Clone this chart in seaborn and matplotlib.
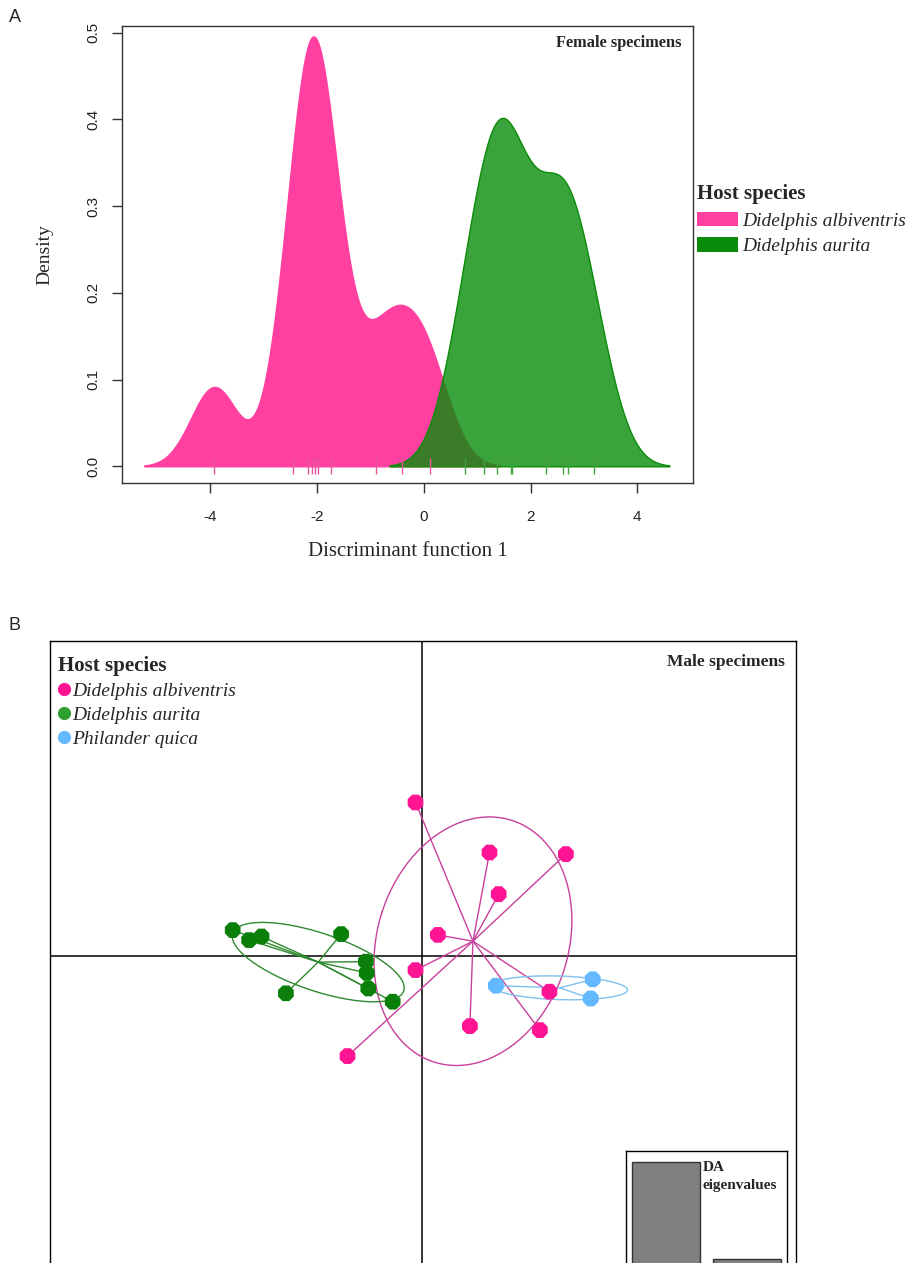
import numpy as np
import pandas as pd
import seaborn as sns
import matplotlib.pyplot as plt
from matplotlib.patches import Patch
from matplotlib.lines import Line2D

# ---- data -------------------------------------------------------------
species = ['Didelphis albiventris', 'Didelphis aurita', 'Philander quica']

# panel A: discriminant function 1 scores of the female specimens
df1_albiventris = [-3.92, -2.44, -2.16, -2.09, -2.04, -1.98, -1.74, -0.90, -0.40, 0.11]
df1_aurita = [0.77, 1.13, 1.38, 1.63, 1.65, 2.29, 2.61, 2.71, 3.19]

# panel B: DA scores (LD1, LD2) of the male specimens
ld1_albiventris = [-0.17, 1.68, 3.59, 1.91, 0.39, -0.17, 3.18, 1.19, 2.94, -1.87]
ld2_albiventris = [3.83, 2.58, 2.54, 1.54, 0.52, -0.36, -0.90, -1.76, -1.86, -2.51]
ld1_aurita = [-4.74, -4.33, -4.02, -2.03, -1.41, -1.39, -1.35, -3.41, -0.74]
ld2_aurita = [0.64, 0.39, 0.48, 0.54, -0.15, -0.43, -0.82, -0.94, -1.15]
ld1_quica = [1.84, 4.26, 4.21]
ld2_quica = [-0.75, -0.59, -1.07]

eig_labels = ['LD1', 'LD2']
eig_values = [10.0, 1.5]

fill_cols = {'Didelphis albiventris': '#FF40A0', 'Didelphis aurita': '#0A8C0A'}
point_cols = {'Didelphis albiventris': '#FF1493', 'Didelphis aurita': '#0A800A',
              'Philander quica': '#63B8FF'}
line_cols = {'Didelphis albiventris': '#C8409A', 'Didelphis aurita': '#2F8A2F',
             'Philander quica': '#7EC0EE'}
legend_cols = {'Didelphis albiventris': '#FF1493', 'Didelphis aurita': '#2FA02F',
               'Philander quica': '#63B8FF'}

SERIF = 'Liberation Serif'
SANS = 'Liberation Sans'

sns.set_style('ticks')
plt.rcParams['font.family'] = [SANS, 'DejaVu Sans']

W, H = 920, 1263
fig = plt.figure(figsize=(W / 100, H / 100), dpi=100)


def box(l, t, r, b):
    return [l / W, 1 - b / H, (r - l) / W, (b - t) / H]


def nrd0_adjust(v):
    # R's bw.nrd0 expressed as a multiple of seaborn's scott bandwidth
    v = np.asarray(v)
    n = len(v)
    sd = v.std(ddof=1)
    q75, q25 = np.percentile(v, [75, 25])
    bw = 0.9 * min(sd, (q75 - q25) / 1.34) * n ** -0.2
    return bw / (sd * n ** -0.2)


# ---- panel A ----------------------------------------------------------
axA = fig.add_axes(box(122.3, 25.7, 692.7, 483.3))
sns.kdeplot(x=df1_albiventris, ax=axA, fill=True, color=fill_cols[species[0]], alpha=1,
            linewidth=1, bw_adjust=nrd0_adjust(df1_albiventris), cut=3, gridsize=512)
sns.kdeplot(x=df1_aurita, ax=axA, fill=True, color=fill_cols[species[1]], alpha=0.8,
            linewidth=1, bw_adjust=nrd0_adjust(df1_aurita), cut=3, gridsize=512)
axA.plot(df1_albiventris, np.zeros(len(df1_albiventris)), '|', color='#E8559F', ms=12, mew=1)
axA.plot(df1_aurita, np.zeros(len(df1_aurita)), '|', color='#3FA23F', ms=12, mew=1)

axA.set_xlim(-5.644, 5.037)
axA.set_ylim(-0.0196, 0.508)
axA.set_xticks([-4, -2, 0, 2, 4])
axA.set_xticklabels(['-4', '-2', '0', '2', '4'])
axA.set_yticks([0, 0.1, 0.2, 0.3, 0.4, 0.5])
axA.set_yticklabels(['0.0', '0.1', '0.2', '0.3', '0.4', '0.5'], rotation=90, va='center')
axA.tick_params(axis='both', length=7.5, width=1, color='#333333', labelsize=11,
                labelcolor='#222222', direction='out')
axA.tick_params(axis='x', pad=12)
axA.tick_params(axis='y', pad=8)
for s in axA.spines.values():
    s.set_color('#333333')
    s.set_linewidth(1)
axA.set_xlabel('Discriminant function 1', family=SERIF, fontsize=15, labelpad=13)
axA.set_ylabel('Density', family=SERIF, fontsize=14, labelpad=24)

fig.text(682 / W, 1 - 43.3 / H, 'Female specimens', family=SERIF, weight='bold',
         fontsize=11.8, ha='right', va='center')

hA = [Patch(facecolor=fill_cols[sp], edgecolor='none', label=sp) for sp in species[:2]]
legA = axA.legend(handles=hA, title='Host species', loc='upper left',
                  bbox_to_anchor=(697 / W, 1 - 184 / H), bbox_transform=fig.transFigure,
                  frameon=False, borderpad=0, borderaxespad=0, handlelength=2.1,
                  handleheight=0.75, handletextpad=0.2, labelspacing=0.4,
                  alignment='left', prop={'family': SERIF, 'style': 'italic', 'size': 14},
                  title_fontproperties={'family': SERIF, 'weight': 'bold', 'size': 15})

fig.text(15 / W, 1 - 18 / H, 'A', family=SANS, fontsize=13, ha='center', va='center')
fig.text(15 / W, 1 - 625 / H, 'B', family=SANS, fontsize=13, ha='center', va='center')

# ---- panel B ----------------------------------------------------------
frames = []
for sp, x, y in [(species[0], ld1_albiventris, ld2_albiventris),
                 (species[1], ld1_aurita, ld2_aurita),
                 (species[2], ld1_quica, ld2_quica)]:
    frames.append(pd.DataFrame({'species': sp, 'LD1': x, 'LD2': y}))
dfB = pd.concat(frames, ignore_index=True)

PX = 40.0
axB = fig.add_axes(box(50, 641, 795.7, 1290))
axB.set_xlim((50 - 422.3) / PX, (795.7 - 422.3) / PX)
axB.set_ylim((955.7 - 1290) / PX, (955.7 - 641) / PX)
axB.axhline(0, color='black', lw=1.1, zorder=1)
axB.axvline(0, color='black', lw=1.1, zorder=1)

t = np.linspace(0, 2 * np.pi, 200)
for sp, g in dfB.groupby('species', sort=False):
    xy = g[['LD1', 'LD2']].to_numpy()
    c = xy.mean(axis=0)
    # stars from the group centroid
    for px, py in xy:
        axB.plot([c[0], px], [c[1], py], color=line_cols[sp], lw=1, zorder=2)
    # ade4 s.class style ellipse, cellipse = 1.5
    cov = np.cov(xy.T, ddof=0)
    vals, vecs = np.linalg.eigh(cov)
    circ = np.vstack([np.cos(t), np.sin(t)]) * 1.5 * np.sqrt(np.clip(vals, 0, None))[:, None]
    ell = vecs @ circ
    axB.plot(c[0] + ell[0], c[1] + ell[1], color=line_cols[sp], lw=1, zorder=2)

sns.scatterplot(data=dfB, x='LD1', y='LD2', hue='species', palette=point_cols,
                marker='8', s=150, linewidth=0, legend=False, ax=axB, zorder=3)
axB.set_xticks([])
axB.set_yticks([])
axB.set_xlabel('')
axB.set_ylabel('')
for s in axB.spines.values():
    s.set_color('black')
    s.set_linewidth(1)

hB = [Line2D([], [], marker='o', linestyle='none', markersize=9.5,
             markerfacecolor=legend_cols[sp], markeredgewidth=0, label=sp) for sp in species]
axB.legend(handles=hB, title='Host species', loc='upper left',
           bbox_to_anchor=(58 / W, 1 - 656 / H), bbox_transform=fig.transFigure,
           frameon=False, borderpad=0, borderaxespad=0, handlelength=0.6,
           handletextpad=0.12, labelspacing=0.32, alignment='left',
           prop={'family': SERIF, 'style': 'italic', 'size': 14},
           title_fontproperties={'family': SERIF, 'weight': 'bold', 'size': 15})

fig.text(785 / W, 1 - 662 / H, 'Male specimens', family=SERIF, weight='bold',
         fontsize=12.5, ha='right', va='center')

# inset: DA eigenvalues
axI = fig.add_axes(box(626, 1150.7, 786.7, 1276.5))
axI.set_zorder(5)
sns.barplot(x=eig_labels, y=eig_values, color='#808080', edgecolor='#333333', linewidth=1,
            width=0.84, saturation=1, ax=axI)
axI.set_xlim(-0.49, 1.49)
axI.set_ylim(0, 10.96)
axI.set_xticks([])
axI.set_yticks([])
axI.set_xlabel('')
axI.set_ylabel('')
axI.set_facecolor('white')
for s in axI.spines.values():
    s.set_color('black')
    s.set_linewidth(1)
fig.text(702.7 / W, 1 - 1161 / H, 'DA\neigenvalues', family=SERIF, weight='bold',
         fontsize=11, ha='left', va='top', linespacing=1.45, zorder=6)

fig.savefig('out.png', dpi=100, facecolor='white')
